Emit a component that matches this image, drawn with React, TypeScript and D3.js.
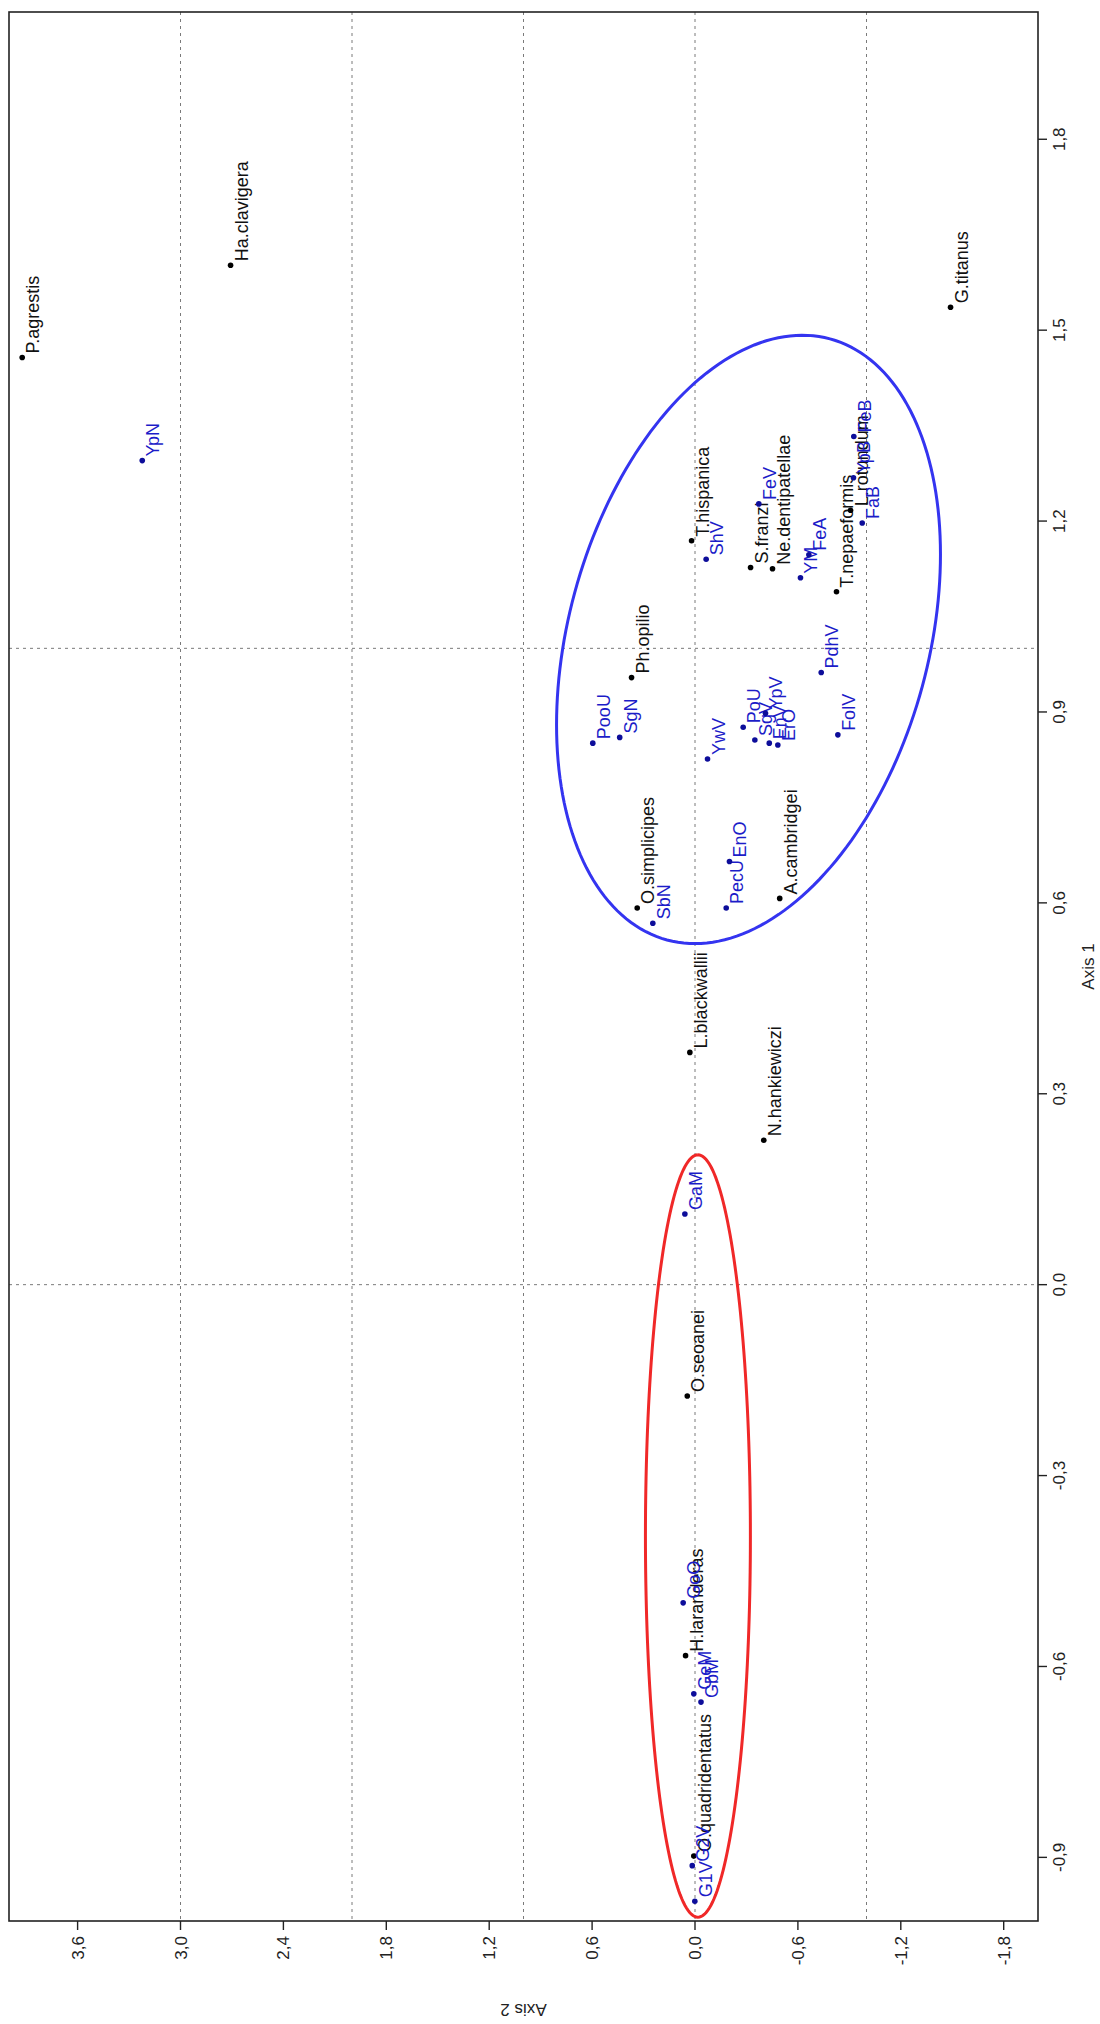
import React from "react";
import * as d3 from "d3";

// ---- Data (Axis 1 = horizontal axis of original biplot, Axis 2 = vertical) ----
const speciesNames = [
  "P.agrestis", "Ha.clavigera", "G.titanus", "T.hispanica", "S.franzi",
  "Ne.dentipatellae", "T.nepaeformis", "L.rotundum", "Ph.opilio",
  "O.simplicipes", "A.cambridgei", "L.blackwallii", "N.hankiewiczi",
  "O.seoanei", "H.laranderas", "O.quadridentatus",
];
const speciesAxis1 = [
  1.457, 1.602, 1.536, 1.169, 1.127, 1.125, 1.089, 1.217, 0.954,
  0.592, 0.607, 0.365, 0.227, -0.175, -0.583, -0.898,
];
const speciesAxis2 = [
  3.923, 2.708, -1.49, 0.02, -0.324, -0.452, -0.825, -0.907, 0.37,
  0.337, -0.494, 0.03, -0.401, 0.045, 0.055, 0.007,
];

const siteNames = [
  "YpN", "FeB", "YpB", "FaB", "FeV", "ShV", "YM", "FeA", "PdhV",
  "PooU", "SgN", "YwV", "PoU", "SgV", "YpV", "EnV", "ErO", "FolV",
  "SbN", "PecU", "EnO", "GaM", "GoO", "GeM", "GbM", "G2V", "G1V",
];
const siteAxis1 = [
  1.295, 1.333, 1.268, 1.197, 1.227, 1.14, 1.111, 1.147, 0.962,
  0.851, 0.86, 0.826, 0.876, 0.856, 0.898, 0.851, 0.848, 0.864,
  0.568, 0.592, 0.665, 0.111, -0.5, -0.643, -0.656, -0.913, -0.969,
];
const siteAxis2 = [
  3.223, -0.926, -0.924, -0.975, -0.372, -0.065, -0.615, -0.664, -0.736,
  0.596, 0.439, -0.073, -0.281, -0.349, -0.411, -0.433, -0.483, -0.833,
  0.246, -0.182, -0.201, 0.059, 0.069, 0.007, -0.035, 0.016, 0.001,
];

const axis1Ticks = [-0.9, -0.6, -0.3, 0, 0.3, 0.6, 0.9, 1.2, 1.5, 1.8];
const axis1TickLabels = ["-0,9", "-0,6", "-0,3", "0,0", "0,3", "0,6", "0,9", "1,2", "1,5", "1,8"];
const axis2Ticks = [3.6, 3.0, 2.4, 1.8, 1.2, 0.6, 0, -0.6, -1.2, -1.8];
const axis2TickLabels = ["3,6", "3,0", "2,4", "1,8", "1,2", "0,6", "0,0", "-0,6", "-1,2", "-1,8"];
const gridAxis1 = [0, 1];
const gridAxis2 = [3, 2, 1, 0, -1];

const axis1Domain = [-1, 2];
const axis2Domain = [4, -2];

// Ellipses in data units: centre (axis1, axis2), conjugate semi-axes
const blueEllipseCenter = [1.014, -0.312];
const blueEllipseA = [0.4723, -0.4752];
const blueEllipseB = [-0.0737, -1.0134];
const redEllipseCenter = [-0.395, -0.017];
const redEllipseA = [0.599, 0];
const redEllipseB = [0, 0.306];

const W = 1100;
const H = 2024;
const left = 9, right = 1038, top = 12, bottom = 1921;

export default function App() {
  const x = d3.scaleLinear().domain(axis2Domain).range([left, right]); // Axis 2 -> page x
  const y = d3.scaleLinear().domain([axis1Domain[1], axis1Domain[0]]).range([top, bottom]); // Axis 1 -> page y

  const ellipsePath = (c: number[], a: number[], b: number[]) => {
    const n = 200;
    const pts: [number, number][] = d3.range(n + 1).map((i) => {
      const t = (i / n) * 2 * Math.PI;
      const u = c[0] + a[0] * Math.cos(t) + b[0] * Math.sin(t);
      const v = c[1] + a[1] * Math.cos(t) + b[1] * Math.sin(t);
      return [x(v), y(u)];
    });
    return d3.line()(pts) || "";
  };

  const font = "'Liberation Sans', Arial, Helvetica, sans-serif";
  const blueText = "#1c1cc8";
  const blueDot = "#0d0d9a";

  return (
    <svg
      width={W}
      height={H}
      style={{ position: "absolute", left: 0, top: 0, background: "#fff" }}
      fontFamily={font}
    >
      <defs>
        <clipPath id="plotClip">
          <rect x={left} y={top} width={right - left} height={bottom - top} />
        </clipPath>
      </defs>
      <rect x={0} y={0} width={W} height={H} fill="#fff" />

      {/* grid */}
      <g stroke="#7a7a7a" strokeWidth={1} strokeDasharray="3,4">
        {gridAxis2.map((g) => (
          <line key={"gv" + g} x1={x(g)} x2={x(g)} y1={top} y2={bottom} />
        ))}
        {gridAxis1.map((g) => (
          <line key={"gh" + g} x1={left} x2={right} y1={y(g)} y2={y(g)} />
        ))}
      </g>

      {/* ellipses */}
      <g clipPath="url(#plotClip)" fill="none" strokeWidth={3}>
        <path d={ellipsePath(blueEllipseCenter, blueEllipseA, blueEllipseB)} stroke="#3434f0" />
        <path d={ellipsePath(redEllipseCenter, redEllipseA, redEllipseB)} stroke="#f02828" />
      </g>

      {/* species points */}
      <g>
        {speciesNames.map((n, i) => {
          const px = x(speciesAxis2[i]);
          const py = y(speciesAxis1[i]);
          return (
            <g key={"s" + n}>
              <circle cx={px} cy={py} r={2.8} fill="#000" />
              <text
                transform={`translate(${px + 17},${py - 4}) rotate(-90)`}
                fontSize={18}
                fill="#111"
                textAnchor="start"
              >
                {n}
              </text>
            </g>
          );
        })}
      </g>

      {/* site points */}
      <g>
        {siteNames.map((n, i) => {
          const px = x(siteAxis2[i]);
          const py = y(siteAxis1[i]);
          return (
            <g key={"t" + n}>
              <circle cx={px} cy={py} r={2.8} fill={blueDot} />
              <text
                transform={`translate(${px + 17},${py - 4}) rotate(-90)`}
                fontSize={18}
                fill={blueText}
                textAnchor="start"
              >
                {n}
              </text>
            </g>
          );
        })}
      </g>

      {/* frame */}
      <rect x={left} y={top} width={right - left} height={bottom - top} fill="none" stroke="#222" strokeWidth={1.6} />

      {/* Axis 1 ticks (right side) */}
      <g>
        {axis1Ticks.map((t, i) => (
          <g key={"a1" + i}>
            <line x1={right} x2={right + 9} y1={y(t)} y2={y(t)} stroke="#222" strokeWidth={1.4} />
            <text
              transform={`translate(${right + 27},${y(t)}) rotate(-90)`}
              fontSize={17}
              fill="#222"
              textAnchor="middle"
            >
              {axis1TickLabels[i]}
            </text>
          </g>
        ))}
        <text
          transform={`translate(${1094},${(top + bottom) / 2}) rotate(-90)`}
          fontSize={17}
          fill="#222"
          textAnchor="middle"
        >
          Axis 1
        </text>
      </g>

      {/* Axis 2 ticks (bottom) */}
      <g>
        {axis2Ticks.map((t, i) => (
          <g key={"a2" + i}>
            <line x1={x(t)} x2={x(t)} y1={bottom} y2={bottom + 9} stroke="#222" strokeWidth={1.4} />
            <text
              transform={`translate(${x(t) + 6},${bottom + 15}) rotate(-90)`}
              fontSize={17}
              fill="#222"
              textAnchor="end"
            >
              {axis2TickLabels[i]}
            </text>
          </g>
        ))}
        <text
          transform={`translate(${(left + right) / 2},${2004}) rotate(180)`}
          fontSize={17}
          fill="#222"
          textAnchor="middle"
        >
          Axis 2
        </text>
      </g>
    </svg>
  );
}
